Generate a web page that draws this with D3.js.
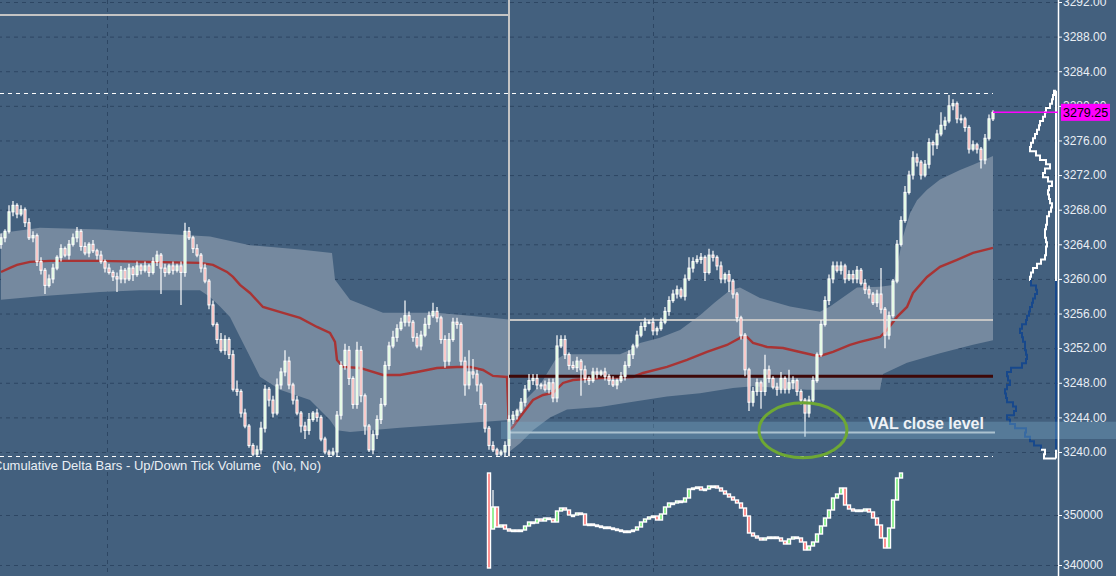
<!DOCTYPE html>
<html><head><meta charset="utf-8">
<script src="https://cdn.jsdelivr.net/npm/d3@7"></script>
<style>
body{margin:0;background:#43607e;overflow:hidden}
svg{display:block}
text{font-family:"Liberation Sans",Arial,sans-serif}
</style>
</head><body>
<svg id="c" width="1116" height="576"></svg>
<script>
// ---------------- DATA ----------------
const priceTicks = [3240,3244,3248,3252,3256,3260,3264,3268,3272,3276,3280,3284,3288,3292];
const deltaTicks = [340000,350000];
const timeGridIdx = [26.5,163];
const sessionStartIdx = 127;
const lastIdx = 248;
const firstOpen = 3264.0;
const closes = [
3264.75,3265.5,3267.75,3268.5,3267.5,3268,3266.5,3264.75,3265,3262,
3261,3259.25,3260,3261.25,3262.5,3263.5,3262.75,3264,3264.75,3265.5,
3263.75,3263,3264,3263.25,3262.75,3262,3261.25,3260.75,3260.25,3260,
3261,3260,3261.25,3260.5,3261.5,3261,3261.5,3260.75,3262,3262.75,
3261.25,3260.75,3261.5,3261,3261.5,3260.75,3265.5,3264.75,3263.5,3262.75,
3261.25,3259.75,3257,3254.75,3253,3251.75,3253,3251.25,3247.25,3247,
3244.5,3243,3240.75,3239.75,3240.25,3242.75,3247.25,3246,3244.5,3247.75,
3249.25,3250.5,3247.75,3246,3244.5,3243,3242.5,3243.75,3244.5,3244,
3241.5,3240,3239.75,3240,3244.25,3250,3251.75,3248.5,3245.5,3251.75,
3246.5,3243,3240.25,3242,3243.75,3245.5,3250,3252.25,3253.25,3254.25,
3255,3255.75,3255,3253.25,3252.25,3253.5,3254.75,3255.75,3256.25,3255.5,
3253,3250.5,3253,3255,3254.75,3250.5,3247.75,3249.25,3249,3247.75,
3245.5,3242.75,3240.75,3240.25,3239.75,3240,3240.75,3243.75,3244.25,3244.75,
3245.75,3247.25,3248.25,3248.5,3247.75,3247.75,3247.25,3248,3246.25,3252.25,
3253,3251.25,3250,3249.75,3250.5,3249.5,3248.5,3248.25,3249.25,3249,
3249.25,3248.75,3248.25,3247.75,3248.25,3248.75,3250,3251.25,3252.25,3253.5,
3254.5,3255,3255,3254,3254.25,3255,3256.25,3257.5,3258.25,3258.75,
3258,3260,3261.25,3262,3262.25,3262.5,3260.75,3262.75,3262.5,3261.5,
3260,3260.5,3259.75,3258.25,3255.5,3253.5,3249.5,3245.75,3247,3248,
3247,3249.5,3248.5,3247.5,3247.25,3248.5,3247.25,3248,3248.25,3247,
3246,3244.5,3246,3248.25,3251.25,3254.75,3257.5,3260,3261.5,3261,
3261.5,3260,3260.5,3260,3261,3259.5,3258.75,3258.25,3257.25,3258.25,
3256.5,3253.5,3255.75,3259.75,3264,3266.75,3270,3272,3274,3273.5,
3272,3273.25,3275.75,3275.5,3276.75,3277.75,3278.25,3280,3280.25,3278.5,
3278.5,3277.5,3275,3275.5,3275,3273.75,3276.25,3278.5,3279.25
];
const wickUp = [
0.5,0.25,0.75,0.5,0.25,0.5,0.25,0.5,0.5,0.25,0.5,0.25,0.5,0.5,0.25,0.5,0.25,0.5,0.5,0.5,
0.25,0.5,0.25,0.5,0.25,0.5,0.25,0.5,0.25,0.5,0.5,0.25,0.5,0.25,0.5,0.25,0.5,0.25,0.5,0.5,
0.25,0.5,0.25,0.5,0.25,0.5,1,0.5,0.25,0.5,0.25,0.5,0.25,0.5,0.25,0.75,0.5,0.25,0.5,1,
0.25,0.5,0.25,0.25,0.5,0.75,0.5,0.25,0.5,0.75,0.5,1.25,0.5,0.25,0.5,0.25,0.5,0.75,0.25,0.5,
0.25,0.25,0.25,0.5,0.5,0.5,0.75,0.5,0.25,1,0.5,0.25,0.25,0.5,0.5,0.75,0.5,0.5,0.75,0.5,
0.5,1.75,0.5,0.25,0.5,0.5,0.75,0.5,1,0.5,0.25,0.5,0.75,0.5,0.5,0.25,0.5,2.5,1.5,0.5,
0.25,0.25,0.25,0.5,0.25,0.25,0.5,0.5,0.5,0.25,0.5,0.5,0.75,0.5,0.5,0.25,0.5,0.5,0.5,1.25,
0.5,0.5,0.25,0.5,0.5,0.25,0.5,0.25,0.5,0.5,0.25,0.5,0.25,0.5,0.25,0.5,0.5,0.5,0.25,0.5,
0.5,0.5,0.25,0.5,0.25,0.5,0.5,0.5,0.5,0.5,0.25,0.5,1.25,0.5,0.5,0.5,0.25,0.75,0.5,0.25,
0.5,0.25,0.5,0.25,0.25,0.25,0.25,0.25,0.5,0.5,0.25,1.75,0.5,0.25,0.5,0.75,0.25,1.5,0.5,0.25,
0.25,0.25,0.5,0.5,0.25,0.5,0.5,0.5,0.5,0.5,0.5,0.25,0.5,0.5,0.5,0.25,0.5,0.5,0.25,0.5,
3,0.25,0.5,0.25,0.5,0.5,0.75,0.5,0.75,0.5,0.25,0.5,0.5,0.25,0.5,1.5,0.5,1.25,0.5,0.25,
0.5,0.25,0.25,0.5,0.25,0.25,0.5,0.5,0.25
];
const wickDn = [
0.5,0.5,0.25,0.5,0.5,0.25,0.5,0.25,0.5,0.5,0.5,1,0.25,0.5,0.25,0.5,0.25,0.5,0.25,0.5,
0.5,0.25,0.5,0.25,0.5,0.25,0.5,0.25,0.5,1.5,0.5,0.5,0.25,0.75,0.25,0.5,0.25,0.5,0.25,0.5,
3,0.5,0.25,0.5,0.25,3.75,0.5,0.25,0.5,0.25,0.5,0.25,0.5,0.25,0.5,0.25,0.5,0.5,0.25,0.5,
0.5,0.25,0.25,0.25,0.25,0.5,0.5,0.75,0.5,0.25,0.5,0.5,0.5,0.5,0.25,0.75,1,0.5,0.25,0.5,
0.25,0.25,0.25,0.25,0.5,0.5,0.5,0.75,0.5,0.5,0.75,1,0.25,0.5,0.5,0.5,0.25,0.5,0.25,0.5,
0.25,0.5,0.5,0.5,0.25,0.5,0.25,0.5,0.25,0.5,0.5,0.75,0.5,0.25,0.5,0.5,1.25,0.5,0.5,0.75,
0.5,0.5,0.5,0.25,0.25,0.25,0.5,1.25,0.5,0.5,0.25,0.5,0.25,0.5,0.5,0.5,0.25,0.5,0.5,0.5,
0.25,0.5,0.5,0.25,0.5,3,0.5,0.5,0.25,0.5,0.25,0.5,0.5,0.25,0.5,0.25,0.5,0.25,0.5,0.25,
0.25,0.5,0.25,0.5,0.5,0.25,0.25,0.5,0.25,0.5,0.25,0.5,0.25,0.5,0.25,0.5,1,0.25,0.5,0.5,
0.5,0.5,1.25,0.5,0.5,0.5,0.75,1,0.5,0.5,2,0.5,0.5,0.25,0.75,0.5,0.5,0.5,0.75,0.5,
0.5,2.75,0.5,0.25,0.25,0.25,0.25,0.5,0.5,0.25,0.5,0.5,0.25,0.5,0.5,0.25,0.5,0.5,0.25,0.5,
0.5,1.5,0.5,0.25,0.25,0.25,0.25,0.25,0.5,0.5,0.5,0.25,0.5,1.25,0.5,0.25,0.5,0.25,0.5,0.5,
0.5,0.5,0.5,0.25,0.5,1,0.5,0.25,0.25
];
// VWAP (time index, price)
const vwapIdx = [0,2.25,4,7.25,12.25,24.75,37.25,49.75,53,56.5,58,59.75,62.25,65.5,70.5,74.75,79,82.25,83.5,84,85.5,89.75,95.5,99.75,104,109,114,117.25,120.5,123,126.5,127,128,129.75,133,135.5,138,140.5,143,149.75,158,160.5,166.5,171.5,176.5,181.5,184.75,186.5,188,191.5,195.5,199.75,203,204.75,208,212.25,214.75,219.75,221.5,224,226.5,228,231.5,234.75,239,243,248];
const vwapVal = [3260.8,3261.27,3261.62,3261.97,3262.08,3262.08,3261.97,3261.85,3261.62,3260.81,3260.23,3259.31,3258.38,3256.76,3256.07,3255.49,3254.45,3253.76,3252.72,3250.64,3249.83,3249.71,3248.9,3248.9,3249.25,3249.71,3249.83,3249.83,3249.48,3248.79,3248.67,3242.54,3242.89,3244.05,3246.01,3246.59,3246.82,3247.98,3248.32,3248.55,3248.67,3249.13,3249.83,3250.64,3251.56,3252.37,3253.18,3253.29,3252.6,3252.14,3252.02,3251.56,3251.21,3251.1,3251.56,3252.37,3252.72,3253.29,3254.1,3255.61,3256.76,3258.38,3260.23,3261.39,3262.2,3263.01,3263.58];
// Std-dev band, pre-session
const preUpIdx = [0,9.75,24.75,34.75,44.75,52.25,62.25,74.75,82.75,83.5,87.25,95.5,109,120.5,127];
const preUpVal = [3265.3,3265.9,3265.7,3265.4,3265.1,3264.9,3263.9,3263.4,3263.0,3259.9,3257.6,3256.1,3256.1,3255.6,3255.3];
const preLoIdx = [0,9.75,24.75,34.75,49.75,52.25,54.75,57.25,59.75,62.25,64.75,69.75,77.25,82.25,84,87.25,99.75,112.25,127];
const preLoVal = [3257.6,3258.0,3258.5,3258.7,3258.7,3257.9,3256.8,3255.6,3253.3,3251.0,3248.7,3247.2,3246.0,3243.7,3242.5,3242.3,3242.8,3243.2,3243.7];
// Std-dev band, session
const sesUpIdx = [127,129.75,134.75,138.5,141,154.75,157.25,159.75,164.75,169.75,174.75,178.5,182.25,184.75,189.75,197.25,204.75,207.25,214,219.75,223,224,225.5,227.25,229,231.5,234.75,239.75,243,248];
const sesUpVal = [3242.5,3245.4,3247.75,3250.6,3251.3,3251.3,3251.8,3252.6,3253.2,3254.1,3255.8,3257.3,3258.7,3259.0,3257.8,3256.8,3256.2,3256.8,3259.0,3259.1,3259.3,3261.4,3264.9,3267.6,3269.1,3270.3,3271.5,3272.6,3273.2,3274.2];
const sesLoIdx = [127,129.75,133,137.25,141.5,149.75,158,166.5,174.75,183,188,194.75,201.5,219.75,220.5,226.5,234.75,243,248];
const sesLoVal = [3240.0,3241.0,3242.5,3244.0,3244.9,3245.2,3245.8,3246.4,3246.8,3247.4,3247.6,3247.4,3247.2,3247.2,3249.0,3250.3,3251.4,3252.4,3252.9];
// Reference levels
const prevHigh = 3290.5;
const sessionLevel = 3255.25;
const pocLevel = 3248.75;
const valLevel = 3242.25;
const valBand = [3241.5,3243.5];
const dayHigh = 3281.5;
const dayLow = 3239.5;
const lastPrice = 3279.25;
const annotIdx = 200.5;
const annotText = "VAL close level";
// Volume profile
const profilePrices = [3281.5,3281,3280.5,3280,3279.5,3279,3278.5,3278,3277.5,3277,3276.5,3276,3275.5,3275,3274.5,3274,3273.5,3273,3272.5,3272,3271.5,3271,3270.5,3270,3269.5,3269,3268.5,3268,3267.5,3267,3266.5,3266,3265.5,3265,3264.5,3264,3263.5,3263,3262.5,3262,3261.5,3261,3260.5,3260,3259.5,3259,3258.5,3258,3257.5,3257,3256.5,3256,3255.5,3255,3254.5,3254,3253.5,3253,3252.5,3252,3251.5,3251,3250.5,3250,3249.5,3249,3248.5,3248,3247.5,3247,3246.5,3246,3245.5,3245,3244.5,3244,3243.5,3243,3242.5,3242,3241.5,3241,3240.5,3240,3239.5];
const profileVol = [2,3,4,6,10,11,13,16,17,19,21,23,25,26,20,16,10,6,11,13,8,4,7,8,7,6,4,5,7,9,9,10,11,11,10,9,10,10,11,15,19,23,25,26,25,20,19,21,23,24,26,27,29,30,34,36,34,33,31,31,30,29,30,34,45,49,48,46,49,51,50,49,43,40,42,49,46,41,30,31,26,22,15,11,12];
const vaRange = [3240.5,3259.5];
// Cumulative delta
const deltaStartIdx = 122;
const deltaGapOpens = [358400,347200];
const deltaSpikeHigh = 355000;
const deltaCloses = [
339400,351600,347600,348000,347200,346800,347000,346800,347000,347800,
348600,348400,349200,348800,349400,349200,348600,350800,351400,351000,
350000,350000,350400,350200,348000,348200,348000,347800,347600,347600,
347400,347200,347000,346800,346600,346800,347000,347600,348600,349200,
349600,349800,349000,350200,351600,352400,352400,352800,352600,353400,
355200,355400,355600,355000,355200,355800,355800,355400,354800,354200,
353600,353000,352400,351400,349800,346400,345800,345400,345000,345400,
345600,345600,345400,344800,344200,345200,345600,345400,344600,343000,
343800,344600,346200,347800,349400,351000,353400,354200,355400,352000,
351200,350800,351000,350800,351200,350600,349400,348000,345400,343400,
347400,353000,357400,358400
];
const deltaTitle = "Cumulative Delta Bars - Up/Down Tick Volume   (No, No)";

// ---------------- DRAW ----------------
const svg = d3.select("#c");
const W = 1116, H = 576, axisX = 1058, mainBottom = 457, deltaTop = 472;
const x = d3.scaleLinear().domain([0, lastIdx]).range([1, 993]);
const y = d3.scaleLinear().domain([3240, 3292]).range([452, 2]);
const yd = d3.scaleLinear().domain([340000, 350000]).range([565, 515]);
const px = d3.scaleLinear().domain([0, 60]).range([1056, 996]);

const defs = svg.append("defs");
defs.append("clipPath").attr("id","mainClip").append("rect").attr("x",0).attr("y",0).attr("width",axisX).attr("height",mainBottom);
defs.append("clipPath").attr("id","deltaClip").append("rect").attr("x",0).attr("y",deltaTop).attr("width",axisX).attr("height",H-deltaTop);

svg.append("rect").attr("width",W).attr("height",H).attr("fill","#43607e");

const gridColor = "#2d4663";
const gGrid = svg.append("g").attr("transform",`translate(${axisX},0)`)
  .call(d3.axisLeft(y).tickValues(priceTicks).tickSize(axisX).tickFormat(""));
gGrid.select(".domain").remove();
gGrid.selectAll("line").attr("stroke",gridColor).attr("stroke-dasharray","4,4").attr("stroke-width",1);
svg.append("g").selectAll("line").data(timeGridIdx).join("line")
  .attr("x1",d=>Math.round(x(d))+0.5).attr("x2",d=>Math.round(x(d))+0.5)
  .attr("y1",0).attr("y2",mainBottom).attr("stroke",gridColor).attr("stroke-dasharray","4,4");

const main = svg.append("g").attr("clip-path","url(#mainClip)");

function bandPath(upI, upV, loI, loV){
  const pts = upI.map((d,k)=>[x(d), y(upV[k])]).concat(loI.map((d,k)=>[x(d), y(loV[k])]).reverse());
  return d3.line()(pts) + "Z";
}
main.append("path").attr("d", bandPath(preUpIdx,preUpVal,preLoIdx,preLoVal)).attr("fill","#75899f");
main.append("path").attr("d", bandPath(sesUpIdx,sesUpVal,sesLoIdx,sesLoVal)).attr("fill","#75899f");

main.append("path").datum(vwapIdx.map((d,k)=>[d,vwapVal[k]]))
  .attr("d", d3.line().x(d=>x(d[0])).y(d=>y(d[1])))
  .attr("fill","none").attr("stroke","#a83434").attr("stroke-width",2.4);

main.append("line").attr("x1",0).attr("x2",x(sessionStartIdx)).attr("y1",y(prevHigh)).attr("y2",y(prevHigh))
  .attr("stroke","#c4c4c4").attr("stroke-width",2);
main.append("line").attr("x1",x(sessionStartIdx)).attr("x2",x(sessionStartIdx)).attr("y1",0).attr("y2",y(dayLow))
  .attr("stroke","#c4c4c4").attr("stroke-width",2);
main.append("line").attr("x1",x(sessionStartIdx)).attr("x2",x(lastIdx)).attr("y1",y(sessionLevel)).attr("y2",y(sessionLevel))
  .attr("stroke","#c4c4c4").attr("stroke-width",2);
main.append("line").attr("x1",x(sessionStartIdx)).attr("x2",x(lastIdx)).attr("y1",y(pocLevel)).attr("y2",y(pocLevel))
  .attr("stroke","#3e0808").attr("stroke-width",3);

// volume profile
const lvlH = 0.25;
function profPts(from, to){
  const pts = [];
  for(let k=from;k<=to;k++){
    pts.push([px(profileVol[k]), y(profilePrices[k]+lvlH)]);
    pts.push([px(profileVol[k]), y(profilePrices[k]-lvlH)]);
  }
  return pts;
}
const vaTop = profilePrices.indexOf(vaRange[1]);
const vaBot = profilePrices.indexOf(vaRange[0]);
const nP = profilePrices.length-1;
const ln = d3.line();
const topPts = [[px(0), y(profilePrices[0]+lvlH)]].concat(profPts(0, vaTop-1));
svg.append("path").attr("d", ln(topPts)).attr("fill","none").attr("stroke","#ffffff").attr("stroke-width",2);
const vaPts = profPts(vaTop, vaBot);
svg.append("path").attr("d", ln([[px(profileVol[vaTop-1]), y(profilePrices[vaTop]+lvlH)]].concat(vaPts)))
  .attr("fill","none").attr("stroke","#17488c").attr("stroke-width",2);
const botPts = [[px(profileVol[vaBot]), y(profilePrices[vaBot+1]+lvlH)]].concat(profPts(vaBot+1, nP)).concat([[px(0), y(profilePrices[nP]-lvlH)]]);
svg.append("path").attr("d", ln(botPts)).attr("fill","none").attr("stroke","#ffffff").attr("stroke-width",2);
svg.append("line").attr("x1",px(0)).attr("x2",px(0)).attr("y1",y(profilePrices[0]+lvlH)).attr("y2",y(vaRange[1]+lvlH))
  .attr("stroke","#ffffff").attr("stroke-width",2);
svg.append("line").attr("x1",px(0)).attr("x2",px(0)).attr("y1",y(vaRange[1]+lvlH)).attr("y2",y(vaRange[0]-lvlH))
  .attr("stroke","#17488c").attr("stroke-width",2);
svg.append("line").attr("x1",px(0)).attr("x2",px(0)).attr("y1",y(vaRange[0]-lvlH)).attr("y2",y(profilePrices[nP]-lvlH))
  .attr("stroke","#ffffff").attr("stroke-width",2);

// VAL band
svg.append("rect").attr("x",x(125)).attr("width",W-x(125))
  .attr("y",y(valBand[1])).attr("height",y(valBand[0])-y(valBand[1]))
  .attr("fill","rgb(125,175,205)").attr("fill-opacity",0.33);
main.append("line").attr("x1",x(sessionStartIdx)).attr("x2",x(lastIdx)+2).attr("y1",y(valLevel)).attr("y2",y(valLevel))
  .attr("stroke","#c3cbd0").attr("stroke-width",2);

[dayHigh, dayLow].forEach(v=>{
  svg.append("line").attr("x1",0).attr("x2",x(lastIdx)).attr("y1",Math.round(y(v))+0.5).attr("y2",Math.round(y(v))+0.5)
    .attr("stroke","#ffffff").attr("stroke-width",1.2).attr("stroke-dasharray","4,4");
});

// candles
const candles = closes.map((c,i)=>{
  const o = i===0 ? firstOpen : closes[i-1];
  return {i, o, c, h: Math.max(o,c)+wickUp[i], l: Math.min(o,c)-wickDn[i]};
});
const cg = main.append("g");
cg.selectAll("line").data(candles).join("line")
  .attr("x1",d=>x(d.i)).attr("x2",d=>x(d.i)).attr("y1",d=>y(d.h)).attr("y2",d=>y(d.l))
  .attr("stroke","#ffffff").attr("stroke-width",1.2);
cg.selectAll("rect").data(candles).join("rect")
  .attr("x",d=>x(d.i)-1).attr("width",2)
  .attr("y",d=>y(Math.max(d.o,d.c))).attr("height",d=>Math.max(1, Math.abs(y(d.o)-y(d.c))))
  .attr("fill",d=>d.c>=d.o ? "#c8f6c8" : "#f28a8a")
  .attr("stroke","#ffffff").attr("stroke-width",1.1);

// annotation
svg.append("ellipse").attr("cx",x(annotIdx)).attr("cy",y(valLevel+0.25)).attr("rx",44).attr("ry",27.5)
  .attr("fill","none").attr("stroke","#6ea834").attr("stroke-width",3);
svg.append("text").attr("x",x(216.75)).attr("y",y(valLevel)-4)
  .attr("font-size",16).attr("font-weight","bold").attr("fill","#eef2f6").text(annotText);

// price axis
svg.append("line").attr("x1",axisX+0.5).attr("x2",axisX+0.5).attr("y1",0).attr("y2",H).attr("stroke","#ffffff").attr("stroke-width",1.5);
const gAx = svg.append("g").attr("transform",`translate(${axisX},0)`)
  .call(d3.axisRight(y).tickValues(priceTicks).tickFormat(d3.format(".2f")).tickSize(4).tickSizeOuter(0).tickPadding(1));
gAx.select(".domain").remove();
gAx.selectAll("line").attr("stroke","#ffffff");
gAx.selectAll("text").attr("fill","#e9eef4").attr("font-size",12).attr("font-family","'Liberation Sans',Arial,sans-serif");

svg.append("line").attr("x1",x(lastIdx)).attr("x2",axisX).attr("y1",y(lastPrice)).attr("y2",y(lastPrice))
  .attr("stroke","#ff00ff").attr("stroke-width",1.5);
svg.append("rect").attr("x",axisX+3).attr("y",y(lastPrice)-8.5).attr("width",49).attr("height",17).attr("fill","#ff00ff");
svg.append("text").attr("x",axisX+5).attr("y",y(lastPrice)).attr("dy","0.36em").attr("font-size",12.5)
  .attr("fill","#000000").text(d3.format(".2f")(lastPrice));

// ---------------- DELTA PANEL ----------------
const gDGrid = svg.append("g").attr("transform",`translate(${axisX},0)`)
  .call(d3.axisLeft(yd).tickValues(deltaTicks).tickSize(axisX).tickFormat(""));
gDGrid.select(".domain").remove();
gDGrid.selectAll("line").attr("stroke",gridColor).attr("stroke-dasharray","4,4");
svg.append("g").selectAll("line").data(timeGridIdx).join("line")
  .attr("x1",d=>Math.round(x(d))+0.5).attr("x2",d=>Math.round(x(d))+0.5)
  .attr("y1",deltaTop).attr("y2",H).attr("stroke",gridColor).attr("stroke-dasharray","4,4");

const dBars = deltaCloses.map((c,k)=>{
  const o = k < deltaGapOpens.length ? deltaGapOpens[k] : deltaCloses[k-1];
  return {i: deltaStartIdx+k, o, c};
});
const dg = svg.append("g").attr("clip-path","url(#deltaClip)");
dg.append("line").attr("x1",x(deltaStartIdx+1)).attr("x2",x(deltaStartIdx+1))
  .attr("y1",yd(deltaSpikeHigh)).attr("y2",yd(deltaGapOpens[1])).attr("stroke","#ffffff").attr("stroke-width",1.2);
dg.selectAll("rect").data(dBars).join("rect")
  .attr("x",d=>x(d.i)-1.5).attr("width",3)
  .attr("y",d=>yd(Math.max(d.o,d.c))).attr("height",d=>Math.max(1.5, Math.abs(yd(d.o)-yd(d.c))))
  .attr("fill",d=>d.c>=d.o ? "#7cee7c" : "#ff7878")
  .attr("stroke","#ffffff").attr("stroke-width",1.4);

svg.append("text").attr("x",-7).attr("y",470).attr("font-size",13).attr("fill","#e9eef4")
  .style("white-space","pre").text(deltaTitle);

const gDAx = svg.append("g").attr("transform",`translate(${axisX},0)`)
  .call(d3.axisRight(yd).tickValues(deltaTicks).tickFormat(d3.format("d")).tickSize(4).tickSizeOuter(0).tickPadding(1));
gDAx.select(".domain").remove();
gDAx.selectAll("line").attr("stroke","#ffffff");
gDAx.selectAll("text").attr("fill","#e9eef4").attr("font-size",12).attr("font-family","'Liberation Sans',Arial,sans-serif");
</script>
</body></html>
